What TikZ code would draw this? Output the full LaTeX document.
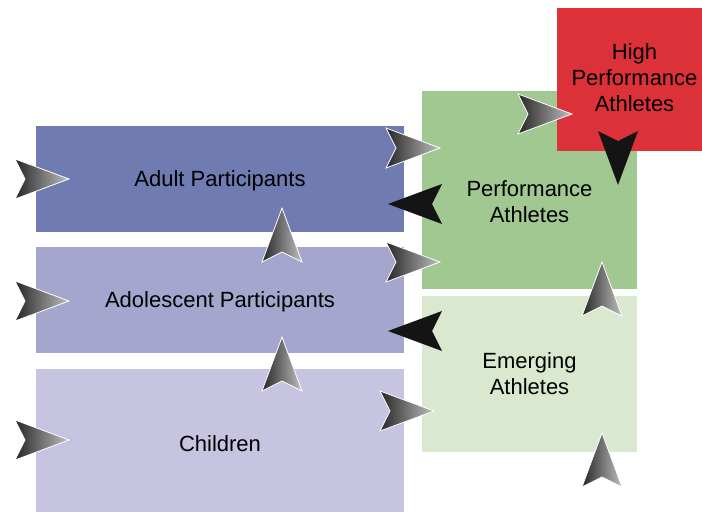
\documentclass[tikz,border=0pt]{standalone}
\usepackage{fontspec}
\setmainfont{Liberation Sans}
\definecolor{adultblue}{HTML}{6F7BB1}
\definecolor{adolblue}{HTML}{A4A6CD}
\definecolor{childblue}{HTML}{C6C4E1}
\definecolor{perfgreen}{HTML}{A2C892}
\definecolor{emerggreen}{HTML}{DAE8D0}
\definecolor{highred}{HTML}{DD3139}
\begin{document}
\begin{tikzpicture}
    [
    x=1pt, y=-1pt,
    box/.style={rectangle,inner sep=0pt,align=center,font=\fontsize{22}{26}\selectfont},
    wide/.style={box,minimum width=368pt},
    narrow/.style={box,minimum width=215pt},
    grayhead/.style={left color=black!85,right color=black!25,draw=white,line width=0.8pt},
    blackhead/.style={fill=black!92},
    head/.pic={\path[pic actions] (27,0) -- (-27,-20) -- (-17,0) -- (-27,20) -- cycle;}
    ]
    \useasboundingbox (0,0) rectangle (702,512);
    \node (adult) at (220,179) [wide,fill=adultblue,minimum height=106pt,
      label={[box,yshift=-2pt]center:Adult Participants}] {};
    \node (adol) at (220,300) [wide,fill=adolblue,minimum height=106pt,
      label={[box,yshift=-2pt]center:Adolescent Participants}] {};
    \node (child) at (220,440.5) [wide,fill=childblue,minimum height=143pt,
      label={[box,yshift=-3pt]center:Children}] {};
    \node (perf) at (529.5,190) [narrow,fill=perfgreen,minimum height=198pt,
      label={[box,yshift=-12pt]center:Performance\\Athletes}] {};
    \node (emerg) at (529.5,374) [narrow,fill=emerggreen,minimum height=156pt] {Emerging\\Athletes};
    \node (high) at (629.5,79.5) [box,fill=highred,minimum width=145pt,minimum height=143pt,
      label={[box,xshift=5pt,yshift=2pt]center:High\\Performance\\Athletes}] {};
    % entry arrows
    \pic [grayhead] at (42,179) {head};
    \pic [grayhead] at (42,301) {head};
    \pic [grayhead] at (42,440) {head};
    % to the athlete boxes
    \pic [grayhead] at (413,148) {head};
    \pic [grayhead] at (413,262) {head};
    \pic [grayhead] at (407,411) {head};
    \pic [grayhead] at (545,114) {head};
    \pic [blackhead,rotate=180] at (415,204) {head};
    \pic [blackhead,rotate=180] at (415,331) {head};
    \pic [blackhead,rotate=-90] at (618,158) {head};
    % upwards
    \pic [grayhead,rotate=90] at (282,235) {head};
    \pic [grayhead,rotate=90] at (282,364) {head};
    \pic [grayhead,rotate=90] at (602,289) {head};
    \pic [grayhead,rotate=90] at (602,460) {head};
  \end{tikzpicture}
\end{document}
